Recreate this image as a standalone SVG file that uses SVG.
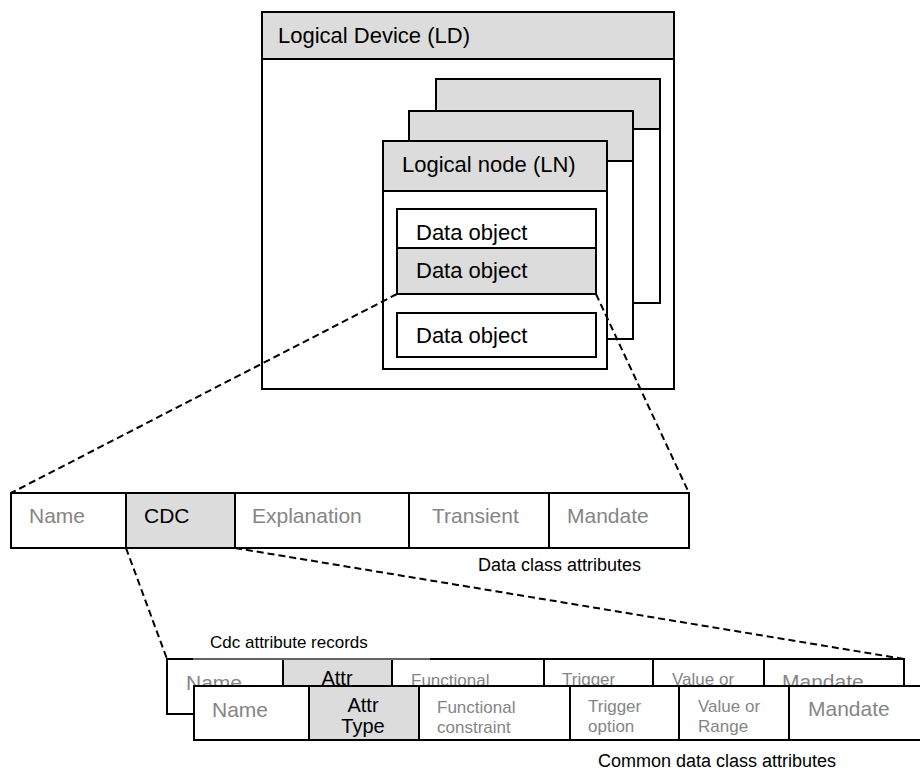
<svg xmlns="http://www.w3.org/2000/svg" width="920" height="771" viewBox="0 0 920 771">
  <style>
    .box { fill: #ffffff; stroke: #000000; stroke-width: 2; }
    .hdr { fill: #dcdcdc; stroke: #000000; stroke-width: 2; }
    .cell { fill: #ffffff; stroke: #000000; stroke-width: 2; }
    .cellg { fill: #dcdcdc; stroke: #000000; stroke-width: 2; }
    .t { font-family: "Liberation Sans", Arial, sans-serif; fill: #000000; }
    .top { font-size: 22px; }
    .big { font-size: 21px; }
    .mid { font-size: 20px; }
    .sm { font-size: 17px; }
    .cap { font-size: 18px; }
    .grey { fill: #858585; }
    .dash { fill: none; stroke: #000000; stroke-width: 2; stroke-dasharray: 7 4; }
  </style>

  <!-- Logical device container -->
  <g id="logical-device">
    <rect class="box" x="262" y="12" width="412" height="377"/>
    <rect class="hdr" x="262" y="12" width="412" height="47"/>
    <text class="t top" x="278" y="43">Logical Device (LD)</text>
  </g>

  <!-- Stacked logical nodes, back to front -->
  <g id="logical-node-back2">
    <rect class="box" x="436" y="79" width="224" height="224"/>
    <rect class="hdr" x="436" y="79" width="224" height="50"/>
  </g>
  <g id="logical-node-back1">
    <rect class="box" x="409" y="111" width="224" height="228"/>
    <rect class="hdr" x="409" y="111" width="224" height="50"/>
  </g>
  <g id="logical-node">
    <rect class="box" x="383" y="141" width="224" height="228"/>
    <rect class="hdr" x="383" y="141" width="224" height="50"/>
    <text class="t top" x="402" y="172">Logical node (LN)</text>
  </g>

  <g id="data-object-1">
    <rect class="cell" x="397" y="209" width="199" height="39"/>
    <text class="t top" x="416" y="240">Data object</text>
  </g>
  <g id="data-object-2">
    <rect class="cellg" x="397" y="248" width="199" height="46"/>
    <text class="t top" x="416" y="278">Data object</text>
  </g>
  <g id="data-object-3">
    <rect class="cell" x="397" y="313" width="199" height="44"/>
    <text class="t top" x="416" y="343">Data object</text>
  </g>

  <!-- Data class attribute table -->
  <g id="data-class-attributes">
    <rect class="cell" x="11" y="493" width="115" height="55"/>
    <rect class="cellg" x="126" y="493" width="109" height="55"/>
    <rect class="cell" x="235" y="493" width="174" height="55"/>
    <rect class="cell" x="409" y="493" width="140" height="55"/>
    <rect class="cell" x="549" y="493" width="140" height="55"/>
    <text class="t big grey" x="29" y="523">Name</text>
    <text class="t big" x="144" y="523">CDC</text>
    <text class="t big grey" x="252" y="523">Explanation</text>
    <text class="t big grey" x="432" y="523">Transient</text>
    <text class="t big grey" x="567" y="523">Mandate</text>
    <text class="t cap" x="478" y="571">Data class attributes</text>
  </g>

  <!-- Common data class attribute records (rear copy) -->
  <g id="cdc-records-back">
    <rect class="cell" x="167" y="659" width="116" height="55"/>
    <rect class="cellg" x="283" y="659" width="109" height="55"/>
    <rect class="cell" x="392" y="659" width="152" height="55"/>
    <rect class="cell" x="544" y="659" width="109" height="55"/>
    <rect class="cell" x="653" y="659" width="111" height="55"/>
    <rect class="cell" x="764" y="659" width="140" height="55"/>
    <text class="t big grey" x="186" y="690">Name</text>
    <text class="t mid" x="337" y="685" text-anchor="middle">Attr</text>
    <text class="t sm grey" x="411" y="686">Functional</text>
    <text class="t sm grey" x="562" y="685">Trigger</text>
    <text class="t sm grey" x="672" y="685">Value or</text>
    <text class="t big grey" x="782" y="689">Mandate</text>
    <!-- label background washes out the top edge -->
    <rect x="193" y="630" width="237" height="28" fill="#ffffff"/>
    <line x1="193" y1="659" x2="430" y2="659" stroke="#c8c8c8" stroke-width="1"/>
    <text class="t sm" x="210" y="648">Cdc attribute records</text>
  </g>

  <!-- Common data class attribute records (front copy) -->
  <g id="cdc-records">
    <rect class="cell" x="194" y="686" width="115" height="54"/>
    <rect class="cellg" x="309" y="686" width="110" height="54"/>
    <rect class="cell" x="419" y="686" width="151" height="54"/>
    <rect class="cell" x="570" y="686" width="109" height="54"/>
    <rect class="cell" x="679" y="686" width="110" height="54"/>
    <rect class="cell" x="789" y="686" width="141" height="54"/>
    <text class="t big grey" x="212" y="717">Name</text>
    <text class="t mid" x="363" y="712" text-anchor="middle">Attr</text>
    <text class="t mid" x="363" y="733" text-anchor="middle">Type</text>
    <text class="t sm grey" x="437" y="713">Functional</text>
    <text class="t sm grey" x="437" y="733">constraint</text>
    <text class="t sm grey" x="588" y="712">Trigger</text>
    <text class="t sm grey" x="588" y="732">option</text>
    <text class="t sm grey" x="698" y="712">Value or</text>
    <text class="t sm grey" x="698" y="732">Range</text>
    <text class="t big grey" x="808" y="716">Mandate</text>
    <text class="t cap" x="598" y="767">Common data class attributes</text>
  </g>

  <!-- Dashed zoom-out connectors -->
  <g id="connectors">
    <line class="dash" x1="397" y1="294" x2="11" y2="493"/>
    <line class="dash" x1="596" y1="294" x2="689" y2="493"/>
    <line class="dash" x1="126" y1="548" x2="167" y2="659"/>
    <line class="dash" x1="235" y1="548" x2="904" y2="659"/>
  </g>
</svg>
